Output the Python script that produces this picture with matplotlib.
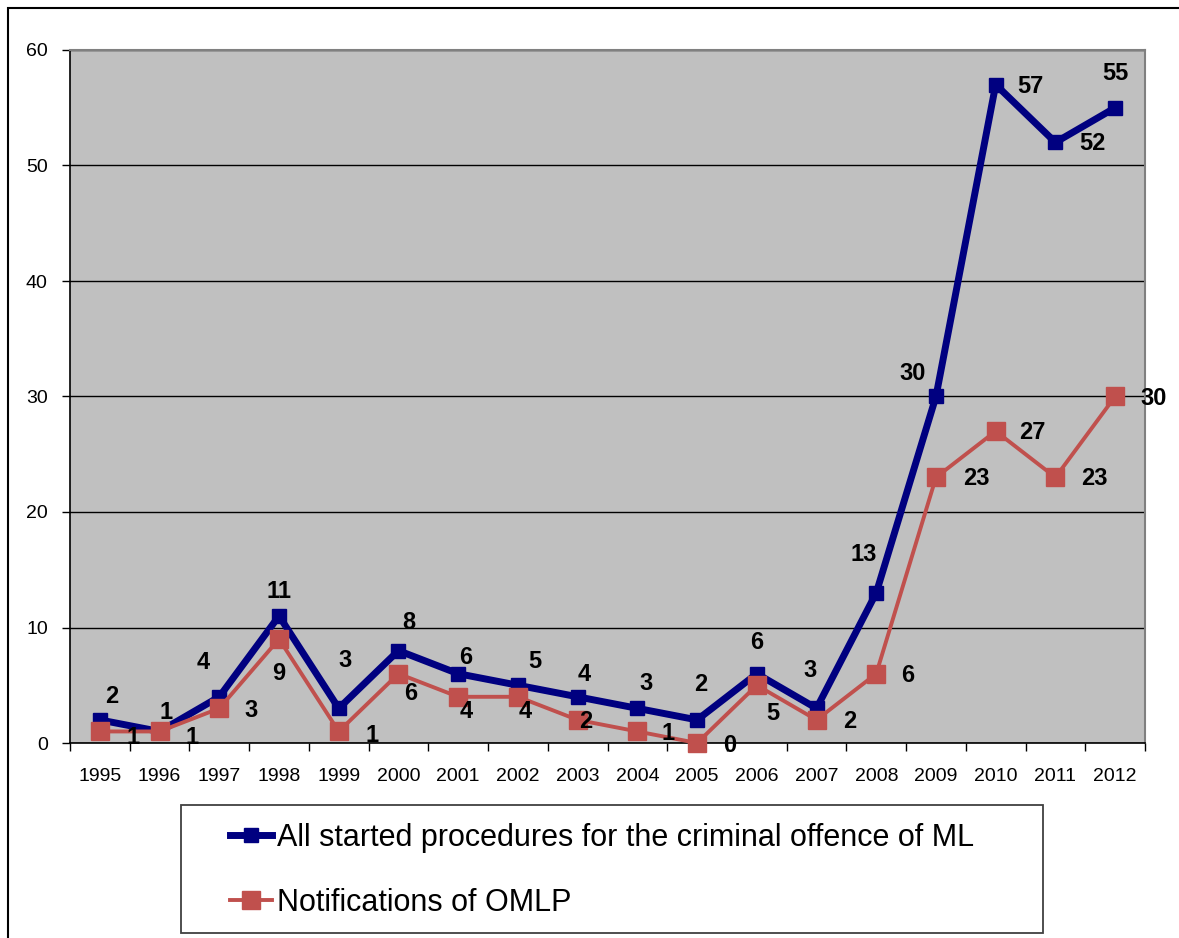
import matplotlib
matplotlib.use("Agg")
import matplotlib.pyplot as plt
from matplotlib.patches import Rectangle

# data
years = [str(y) for y in range(1995, 2013)]
ml_procedures = [2, 1, 4, 11, 3, 8, 6, 5, 4, 3, 2, 6, 3, 13, 30, 57, 52, 55]
omlp_notifications = [1, 1, 3, 9, 1, 6, 4, 4, 2, 1, 0, 5, 2, 6, 23, 27, 23, 30]
ml_name = "All started procedures for the criminal offence of ML"
omlp_name = "Notifications of OMLP"

# label offsets (pixels) to mimic the Excel placement
ml_offsets = [(12, 23), (6, 19), (-16, 34), (0, 24), (6, 48), (10, 28), (7, 16), (17, 24),
              (7, 22), (9, 25), (4, 35), (0, 31), (-6, 38), (-13, 38), (-23, 23), (35, -2),
              (37, -1), (0, 34)]
omlp_offsets = [(33, -6), (32, -6), (32, -2), (0, -34), (33, -4), (12, -20), (8, -15), (7, -15),
                (8, -2), (31, -2), (33, -2), (16, -28), (33, -2), (31, -2), (40, -1), (37, -1),
                (39, -1), (38, -2)]

W, H = 1179, 938
plt.rcParams['font.family'] = ['Liberation Sans', 'DejaVu Sans']

fig = plt.figure(figsize=(W / 100, H / 100), dpi=100)
# outer chart frame (cut at right/bottom like the screenshot)
fig.patches.append(Rectangle((8 / W, -0.05), 1.2, (H - 8) / H + 0.05, transform=fig.transFigure,
                             fill=False, edgecolor='black', linewidth=1.5))
# legend box
fig.patches.append(Rectangle((181 / W, (H - 933) / H), 862 / W, 128 / H, transform=fig.transFigure,
                             fill=False, edgecolor='#404040', linewidth=1.3))

ax = fig.add_axes([70 / W, (H - 743) / H, 1075 / W, 693 / H])
ax.set_facecolor('#c0c0c0')
x = list(range(len(years)))

ax.plot(x, ml_procedures, color='#000080', linewidth=5, marker='s', markersize=10,
        label=ml_name, zorder=3, clip_on=False)
ax.plot(x, omlp_notifications, color='#c0504d', linewidth=2.8, marker='s', markersize=13,
        label=omlp_name, zorder=4, clip_on=False)

for i, v in enumerate(ml_procedures):
    ax.annotate(str(v), (i, v), xytext=ml_offsets[i], textcoords='offset pixels',
                ha='center', va='center', fontsize=17, fontweight='bold', zorder=6,
                annotation_clip=False)
for i, v in enumerate(omlp_notifications):
    ax.annotate(str(v), (i, v), xytext=omlp_offsets[i], textcoords='offset pixels',
                ha='center', va='center', fontsize=17, fontweight='bold', zorder=6,
                annotation_clip=False)

ax.set_xlim(-0.5, len(years) - 0.5)
ax.set_ylim(0, 60)
ax.set_yticks(range(0, 61, 10))
ax.set_xticks(x)
ax.set_xticklabels(years)
ax.set_xticks([i - 0.5 for i in range(len(years) + 1)], minor=True)
ax.tick_params(axis='x', which='major', length=0, pad=18, labelsize=14)
ax.tick_params(axis='x', which='minor', length=6, width=1, direction='out', color='black')
ax.tick_params(axis='y', length=6, width=1, direction='out', labelsize=14, pad=10)
ax.grid(axis='y', color='black', linewidth=1)
ax.set_axisbelow(True)

for side in ['top', 'right']:
    ax.spines[side].set_color('#808080')
    ax.spines[side].set_linewidth(1.5)
for side in ['left', 'bottom']:
    ax.spines[side].set_color('black')
    ax.spines[side].set_linewidth(1.2)

leg = fig.legend(loc='upper left', bbox_to_anchor=(230 / W, (H - 823) / H),
                 fontsize=22, frameon=False, handlelength=1.37, handletextpad=0.16,
                 labelspacing=1.15, borderpad=0, borderaxespad=0)

fig.savefig('out.png', dpi=100)
